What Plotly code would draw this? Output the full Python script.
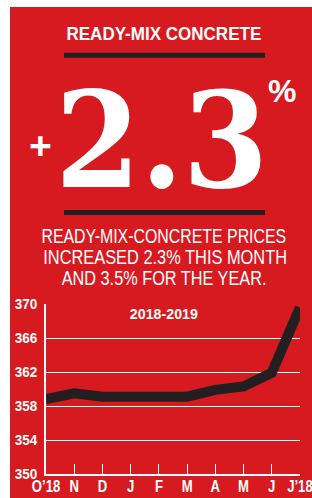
import plotly.graph_objects as go

months = ["O\u201918", "N", "D", "J", "F", "M", "A", "M", "J", "J\u201918"]
prices = [358.8, 359.5, 359.1, 359.1, 359.1, 359.1, 359.9, 360.3, 361.9, 369.6]
y_ticks = [350, 354, 358, 362, 366, 370]

W, H = 312, 498
L, R, T, B = 46, 12, 304, 24
PW, PH = W - L - R, H - T - B

RED = "#d71920"
DARK = "#231f20"
SANS = "Liberation Sans, Arial, sans-serif"
SERIF = "DejaVu Serif, Liberation Serif, serif"


def px(x):
    return (x - L) / PW


def py(y):
    return (H - B - y) / PH


xs = list(range(len(months)))

fig = go.Figure()
fig.add_trace(go.Scatter(x=xs, y=prices, mode="lines",
                         line=dict(color=DARK, width=10), hoverinfo="skip"))

fig.update_layout(
    template="none",
    width=W, height=H,
    margin=dict(l=L, r=R, t=T, b=B, pad=0, autoexpand=False),
    paper_bgcolor=RED, plot_bgcolor=RED,
    showlegend=False,
    xaxis=dict(range=[-0.002, 9.002], tickvals=xs, ticktext=months, showgrid=False,
               automargin=False, zeroline=False, showline=True, linecolor="white",
               linewidth=1.5, ticks="inside", ticklen=10, tickcolor="white", tickwidth=1,
               ticklabelstandoff=-3, ticklabeloverflow="allow",
               tickfont=dict(family=SANS, size=16, color="white", weight="bold"),
               fixedrange=True),
    yaxis=dict(range=[350, 370], tickvals=y_ticks, showgrid=True, automargin=False,
               gridcolor="white", gridwidth=1, zeroline=False, showline=True,
               linecolor="white", linewidth=1.5, ticks="", ticklabelstandoff=4,
               ticklabeloverflow="allow",
               tickfont=dict(family=SANS, size=15.5, color="white", weight="bold"),
               fixedrange=True),
)

shapes = [
    dict(type="rect", xref="paper", yref="paper", x0=px(-2), x1=px(10), y0=py(500), y1=py(-2),
         fillcolor="white", line_width=0, layer="below"),
    dict(type="rect", xref="paper", yref="paper", x0=px(-2), x1=px(314), y0=py(7), y1=py(-2),
         fillcolor="white", line_width=0, layer="below"),
    dict(type="rect", xref="paper", yref="paper", x0=px(64), x1=px(265), y0=py(57.7), y1=py(52.7),
         fillcolor=DARK, line_width=0),
    dict(type="rect", xref="paper", yref="paper", x0=px(64), x1=px(265), y0=py(215), y1=py(210),
         fillcolor=DARK, line_width=0),
]
fig.update_layout(shapes=shapes)

ann = [
    dict(text="<b>READY-MIX CONCRETE</b>", x=164, y=33.5, size=18.5, family=SANS),
    dict(text="<b>2.3</b>", x=161.5, y=140, size=132, family=SERIF),
    dict(text="<b>+</b>", x=40.3, y=145.7, size=39, family=SANS),
    dict(text="<b>%</b>", x=282, y=91, size=32, family=SANS),
    dict(text="READY-MIX-CONCRETE PRICES", x=164, y=235.5, size=21, family=SANS),
    dict(text="INCREASED 2.3% THIS MONTH", x=164.7, y=256.5, size=21, family=SANS),
    dict(text="AND 3.5% FOR THE YEAR.", x=164.2, y=277, size=21, family=SANS),
    dict(text="<b>2018-2019</b>", x=164.2, y=313, size=15, family=SANS),
]
for a in ann:
    fig.add_annotation(text=a["text"], x=px(a["x"]), y=py(a["y"]), xref="paper", yref="paper",
                       xanchor="center", yanchor="middle", showarrow=False,
                       font=dict(family=a["family"], size=a["size"], color="white"))

# horizontal condensing of the text (the original uses a condensed face)
post = """
document.body.style.margin = '0';
document.body.style.overflow = 'hidden';
var gd = document.querySelector('.plotly-graph-div');
var targets = {'0': 195, '1': 213, '4': 245, '5': 244, '6': 205, '7': 68};
function squeeze(t, s, mode) {
  var b = t.getBBox();
  var cx = mode === 'end' ? b.x + b.width : b.x + b.width / 2;
  var tr = t.getAttribute('transform') || '';
  t.setAttribute('transform', tr + ' translate(' + cx + ',0) scale(' + s + ',1) translate(' + (-cx) + ',0)');
}
gd.querySelectorAll('g.annotation').forEach(function (g) {
  var i = g.getAttribute('data-index');
  if (!(i in targets)) return;
  var t = g.querySelector('text.annotation-text');
  var b = t.getBBox();
  if (b.width > 0) squeeze(t, targets[i] / b.width, 'mid');
});
gd.querySelectorAll('g.xtick text').forEach(function (t) { squeeze(t, 0.82, 'mid'); });
gd.querySelectorAll('g.ytick text').forEach(function (t) { squeeze(t, 0.87, 'end'); });
"""

fig.write_html("out.html", post_script=post, config={"responsive": False, "displayModeBar": False})
